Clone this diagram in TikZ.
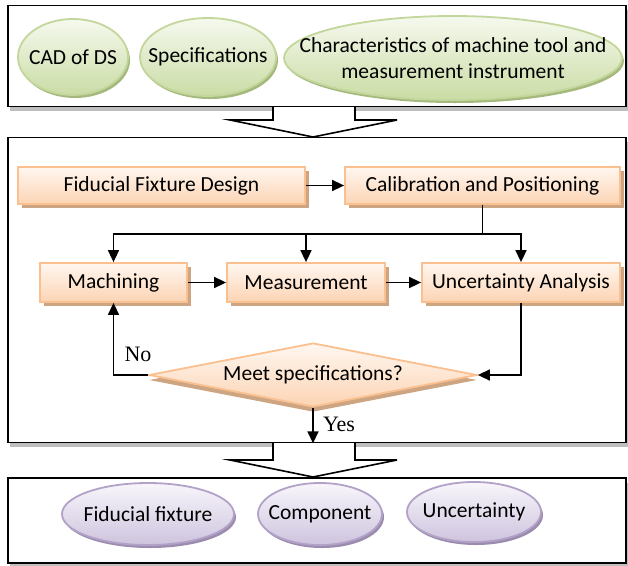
\documentclass[tikz,border=0pt]{standalone}
\usepackage{fontspec}
\setmainfont{Carlito}
\newfontfamily\serifnote{Liberation Serif}
\usetikzlibrary{arrows.meta,shapes.geometric,shadows}

\definecolor{leafedge}{RGB}{195,214,155}
\definecolor{leaftop}{RGB}{246,249,238}
\definecolor{leafbot}{RGB}{202,220,165}
\definecolor{leafshade}{RGB}{165,185,125}
\definecolor{peachedge}{RGB}{250,192,144}
\definecolor{peachtop}{RGB}{255,247,240}
\definecolor{peachbot}{RGB}{252,212,180}
\definecolor{peachshade}{RGB}{205,165,130}
\definecolor{lilacedge}{RGB}{179,162,199}
\definecolor{lilactop}{RGB}{248,246,251}
\definecolor{lilacbot}{RGB}{206,196,222}
\definecolor{lilacshade}{RGB}{155,140,175}

\tikzset{
	panel/.style = {draw, line width=1.6pt, fill=white, inner sep=0pt,
		drop shadow={shadow xshift=1.5pt, shadow yshift=-4.5pt, fill=black!25, opacity=1}},
	% ovals keep their size, the text sits on top as a centred label
	greenoval/.style = {ellipse, draw=leafedge, line width=1.8pt, top color=leaftop, bottom color=leafbot,
		inner sep=0pt,
		drop shadow={shadow xshift=2pt, shadow yshift=-3pt, fill=leafshade, opacity=1}},
	purpleoval/.style = {ellipse, draw=lilacedge, line width=1.8pt, top color=lilactop, bottom color=lilacbot,
		inner sep=0pt,
		drop shadow={shadow xshift=2pt, shadow yshift=-3pt, fill=lilacshade, opacity=1}},
	every label/.style = {align=center, inner sep=0pt},
	stepbox/.style = {rectangle, draw=peachedge, line width=1.8pt, top color=peachtop, bottom color=peachbot,
		inner sep=0pt,
		drop shadow={shadow xshift=3.5pt, shadow yshift=-3.5pt, fill=peachshade, opacity=1}},
	check/.style = {diamond, draw=peachedge, line width=1.8pt, top color=peachtop, bottom color=peachbot,
		inner sep=0pt, aspect=5,
		drop shadow={shadow xshift=0pt, shadow yshift=-5pt, fill=peachshade, opacity=1}},
	flow/.style = {line width=1.6pt, -{Triangle[length=12pt,width=11pt]}},
	hollow/.style = {line width=1.6pt, fill=white, line join=miter},
	answer/.style = {font=\serifnote\fontsize{22}{24}\selectfont},
}

\begin{document}
\begin{tikzpicture}[x=1pt, y=-1pt, font=\fontsize{21.5}{26}\selectfont]
	\useasboundingbox (0,0) rectangle (628,565);

	% three panels
	\node [panel, minimum width=618pt, minimum height=101pt] (inputs) at (317,56) {};
	\node [panel, minimum width=618pt, minimum height=305pt] (process) at (317,290) {};
	\node [panel, minimum width=618pt, minimum height=85pt] (outputs) at (317,520.5) {};

	% block arrows between panels
	\draw [hollow] (273,107) -- (273,120) -- (230,120) -- (313,137) -- (397,120) -- (355,120) -- (355,107);
	\draw [hollow] (273,443) -- (273,460) -- (230,460) -- (313,477) -- (397,460) -- (355,460) -- (355,443);

	% inputs
	\node [greenoval, minimum width=110pt, minimum height=76pt, label=center:{CAD of DS}] (cad) at (73,57) {};
	\node [greenoval, minimum width=136pt, minimum height=78pt, label=center:{Specifications}] (spec) at (208,57) {};
	\node [greenoval, minimum width=338pt, minimum height=84pt,
		label=center:{Characteristics of machine tool and\\measurement instrument}] (machine) at (453,58) {};

	% process
	\node [stepbox, minimum width=287pt, minimum height=37pt] (fixture) at (161.5,185.5) {Fiducial Fixture Design};
	\node [stepbox, minimum width=275pt, minimum height=37pt] (calib) at (482.5,185.5) {Calibration and Positioning};
	\node [stepbox, minimum width=147pt, minimum height=39pt] (mach) at (113.5,282.5) {Machining};
	\node [stepbox, minimum width=158pt, minimum height=39pt] (meas) at (306,282.5) {Measurement};
	\node [stepbox, minimum width=198pt, minimum height=39pt] (unc) at (521,282.5) {Uncertainty Analysis};
	\node [check, minimum width=328pt, minimum height=64pt] (meet) at (313,375) {Meet specifications?};

	\coordinate (split) at (482.5,234);
	\draw [flow] (fixture) -- (calib);
	\draw [line width=1.6pt] (calib.south) -- (split);
	\draw [flow] (split) -| (mach.north);
	\draw [flow] (split) -| (meas.north);
	\draw [flow] (split) -| (unc.north);
	\draw [flow] (mach) -- (meas);
	\draw [flow] (meas) -- (unc);
	\draw [flow] (unc.south) |- (meet.east);
	\draw [flow] (meet.west) -| (mach.south);
	\draw [flow] (meet.south) -- (meet.south |- process.south);
	\node [answer] (no) at (138,354) {No};
	\node [answer] (yes) at (339,424) {Yes};

	% outputs
	\node [purpleoval, minimum width=172pt, minimum height=62pt, label=center:{Fiducial fixture}] (fid) at (148,514) {};
	\node [purpleoval, minimum width=124pt, minimum height=62pt, label=center:{Component}] (comp) at (320,514) {};
	\node [purpleoval, minimum width=134pt, minimum height=60pt, label=center:{Uncertainty}] (uncert) at (474,512) {};
\end{tikzpicture}
\end{document}
